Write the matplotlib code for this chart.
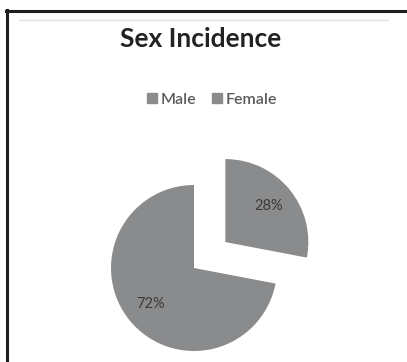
import matplotlib
matplotlib.use("Agg")
import matplotlib.pyplot as plt
from matplotlib.lines import Line2D
from matplotlib.patches import Patch

categories = ["Male", "Female"]
values = [72, 28]
title = "Sex Incidence"

W, H = 407, 362
fig = plt.figure(figsize=(W / 100, H / 100), dpi=100)
fig.patch.set_facecolor("white")

def fx(x):
    return x / W

def fy(y):
    return 1 - y / H

fig.add_artist(Line2D([fx(7), fx(7)], [fy(10), fy(362)], color="#1e1e1e", lw=2.2))
fig.add_artist(Line2D([fx(6), fx(407)], [fy(11), fy(11)], color="#1e1e1e", lw=2.2))
fig.add_artist(Line2D([fx(19), fx(388)], [fy(19.5), fy(19.5)], color="#e4e4e4", lw=1.0))

R = 83
cx, cy = 194, 268
ax = fig.add_axes([(cx - 2 * R) / W, (H - cy - 2 * R) / H, 4 * R / W, 4 * R / H])

color = "#8a8b8d"
order = [1, 0]
explode_map = {"Male": 0.0, "Female": 0.49}
wedges, texts = ax.pie(
    [values[i] for i in order],
    labels=[f"{values[i]}%" for i in order],
    explode=[explode_map[categories[i]] for i in order],
    colors=[color, color],
    startangle=90,
    counterclock=False,
    labeldistance=0.68,
    radius=1.0,
    frame=True,
    textprops=dict(color="#3a3a3a", fontsize=10.5, family=["Lato", "DejaVu Sans"], ha="center", va="center"),
)
ax.set_xlim(-2, 2)
ax.set_ylim(-2, 2)
ax.axis("off")

fig.text(fx(201), fy(39), title, ha="center", va="center", fontsize=19,
         fontweight="bold", color="#222222", family=["Lato", "DejaVu Sans"])

handles = [Patch(facecolor=color, edgecolor=color) for _ in categories]
leg = fig.legend(handles, categories, loc="center", bbox_to_anchor=(fx(212), fy(100)),
                 ncol=2, frameon=False, handlelength=0.6, handleheight=0.6,
                 handletextpad=0.25, columnspacing=1.0,
                 prop=dict(family=["Lato", "DejaVu Sans"], size=11.5, weight="semibold"))
for t in leg.get_texts():
    t.set_color("#5a5a5a")

fig.savefig("out.png", dpi=100, facecolor="white")
